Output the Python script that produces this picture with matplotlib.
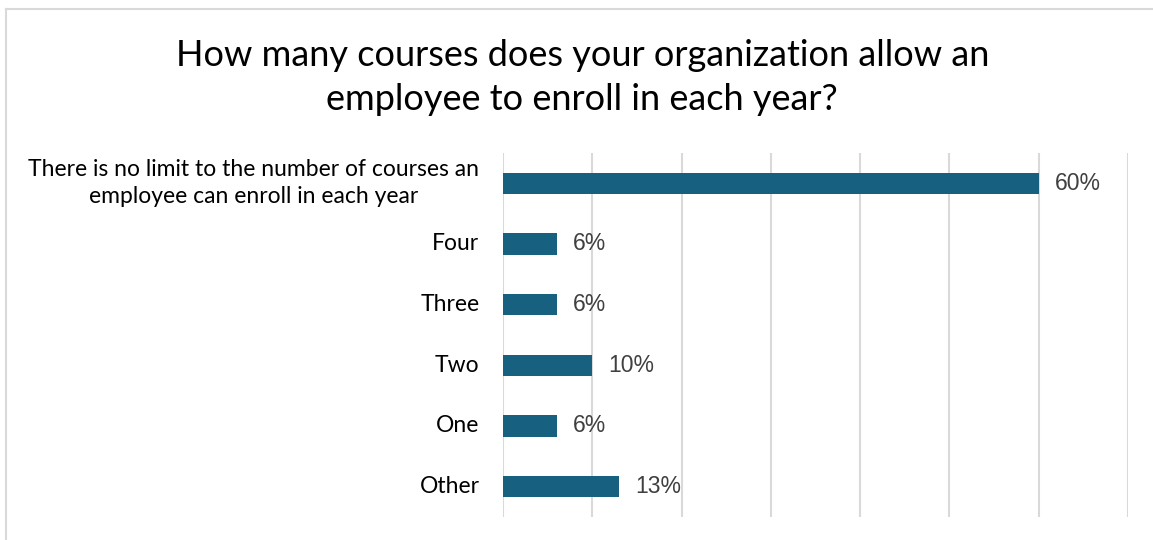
import matplotlib.pyplot as plt
from matplotlib.lines import Line2D

# survey answers, top to bottom
categories = [
    "There is no limit to the number of courses an\nemployee can enroll in each year",
    "Four",
    "Three",
    "Two",
    "One",
    "Other",
]
shares = [60, 6, 6, 10, 6, 13]
ticks = [0, 10, 20, 30, 40, 50, 60, 70]

bar_color = "#17607f"
label_font = "Lato"

fig = plt.figure(figsize=(11.53, 5.40), dpi=100)
ax = fig.add_axes([0.4363, 0.0426, 0.5420, 0.6741])

ypos = list(range(len(categories)))
ax.barh(ypos, shares, height=0.35, color=bar_color, zorder=3)
ax.set_xlim(0, 70)
ax.set_ylim(len(categories) - 0.5, -0.5)
ax.set_xticks(ticks)
ax.set_xticklabels([])
ax.set_yticks([])
ax.tick_params(axis="both", length=0)
ax.grid(axis="x", color="#d9d9d9", linewidth=1.5, zorder=0)
for s in ax.spines.values():
    s.set_visible(False)

# category names, right edge a little left of the axis
for y, name in zip(ypos, categories):
    ax.annotate(name, (0, y), xycoords=("axes fraction", "data"),
                xytext=(-17, 0), textcoords="offset points",
                ha="right", va="center", multialignment="center",
                fontsize=16.5, family=label_font, color="#000000",
                linespacing=1.35)

for y, v in zip(ypos, shares):
    ax.annotate(f"{v}%", (v, y), xytext=(11.5, 0), textcoords="offset points",
                ha="left", va="center", fontsize=16.5, color="#404040",
                family="Liberation Sans")

fig.text(0.505, 0.856, "How many courses does your organization allow an\nemployee to enroll in each year?",
         ha="center", va="center", fontsize=26, family=label_font, linespacing=1.4)

# light frame round the chart area
fig.add_artist(Line2D([0.0052, 0.0052], [0, 0.983], transform=fig.transFigure, color="#d9d9d9", lw=1.5))
fig.add_artist(Line2D([0.0052, 1], [0.983, 0.983], transform=fig.transFigure, color="#d9d9d9", lw=1.5))

fig.savefig("out.png", dpi=100)
